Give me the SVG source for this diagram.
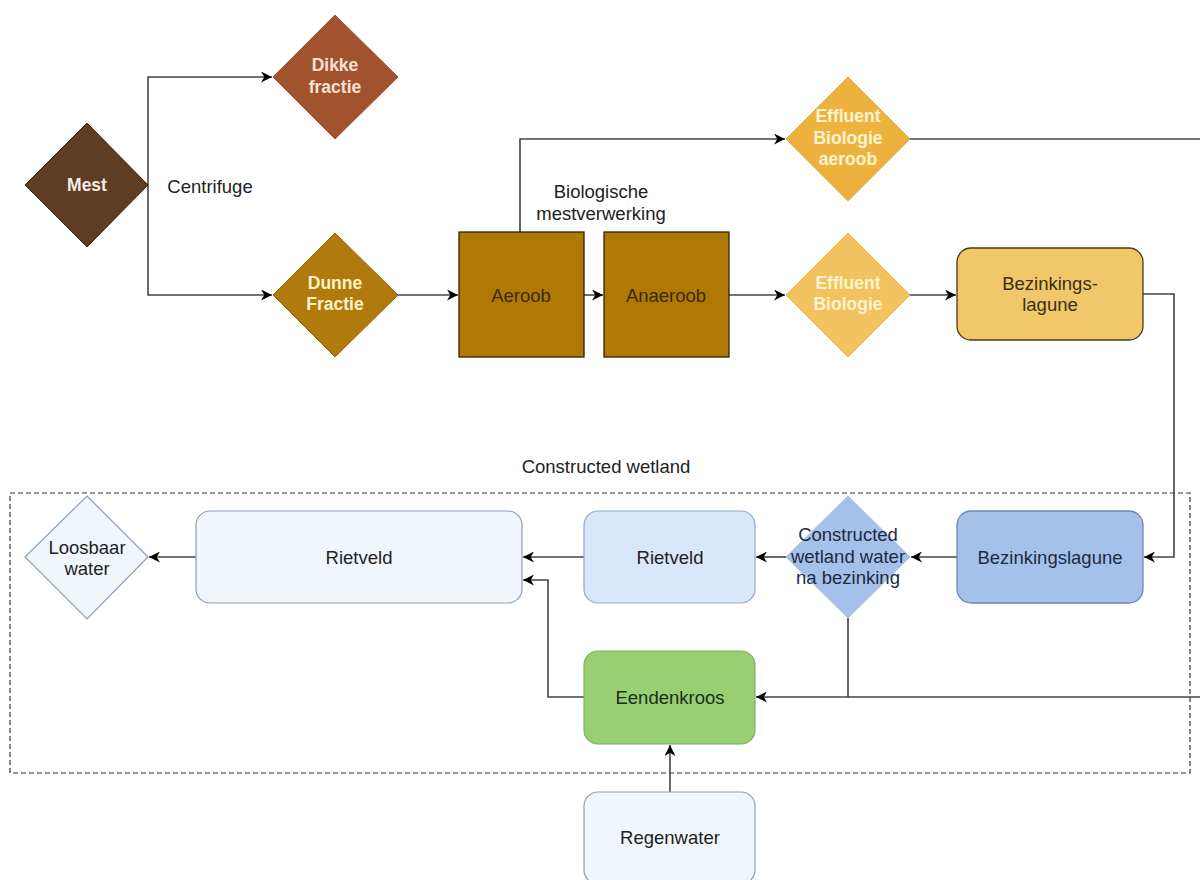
<svg xmlns="http://www.w3.org/2000/svg" width="1200" height="880" viewBox="0 0 1200 880">
<style>
text{font-family:"Liberation Sans",Arial,sans-serif;font-size:18.5px;text-anchor:middle;dominant-baseline:central}
.b{font-weight:bold;font-size:17.5px}
.c{fill:none;stroke:#444;stroke-width:1.6}
.d{fill:none;stroke:#333;stroke-width:1.2;stroke-dasharray:5 3}
</style>
<defs>
<marker id="a" viewBox="0 0 10 10" refX="10" refY="5" markerWidth="11" markerHeight="11" markerUnits="userSpaceOnUse" orient="auto">
<path d="M0,0 L10,5 L0,10 L3,5 Z" fill="#000"/>
</marker>
</defs>
<rect width="1200" height="880" fill="#fff"/>
<text x="606" y="466" fill="#222">Constructed wetland</text>
<rect class="d" x="10" y="493" width="1180" height="280"/>
<g id="connectors">
<path class="c" d="M148,185 V77 H272" marker-end="url(#a)"/>
<path class="c" d="M148,185 V295 H272" marker-end="url(#a)"/>
<path class="c" d="M398,295 H458" marker-end="url(#a)"/>
<path class="c" d="M584,295 H603" marker-end="url(#a)"/>
<path class="c" d="M520,232 V139 H785" marker-end="url(#a)"/>
<path class="c" d="M910,139 H1200"/>
<path class="c" d="M729,295 H785" marker-end="url(#a)"/>
<path class="c" d="M910,295 H956" marker-end="url(#a)"/>
<path class="c" d="M1143,294 H1174 V557 H1144" marker-end="url(#a)"/>
<path class="c" d="M957,557 H911" marker-end="url(#a)"/>
<path class="c" d="M786,557 H756" marker-end="url(#a)"/>
<path class="c" d="M584,557 H523" marker-end="url(#a)"/>
<path class="c" d="M196,557 H149" marker-end="url(#a)"/>
<path class="c" d="M584,697 H548 V580 H523" marker-end="url(#a)"/>
<path class="c" d="M848,618 V697 H756" marker-end="url(#a)"/>
<path class="c" d="M1200,697 H848"/>
<path class="c" d="M670,792 V745" marker-end="url(#a)"/>
</g>
<text x="210" y="186" fill="#222">Centrifuge</text>
<text x="601" y="191" fill="#222">Biologische</text>
<text x="601" y="213" fill="#222">mestverwerking</text>
<g id="mest">
<path d="M87,123 L148,185 L87,247 L25,185 Z" fill="#5e3d22" stroke="#3a2412"/>
<text class="b" x="87" y="185" fill="#f3ece6">Mest</text>
</g>
<g id="dikke">
<path d="M335,15 L398,77 L335,139 L273,77 Z" fill="#a3522e" stroke="#a3522e"/>
<text class="b" x="335" y="65" fill="#f6e3d6">Dikke</text>
<text class="b" x="335" y="87" fill="#f6e3d6">fractie</text>
</g>
<g id="dunne">
<path d="M335,233 L398,295 L335,357 L273,295 Z" fill="#b07a0c" stroke="#8f6308"/>
<text class="b" x="335" y="283" fill="#fff2c8">Dunne</text>
<text class="b" x="335" y="304" fill="#fff2c8">Fractie</text>
</g>
<g id="aeroob">
<rect x="459" y="232" width="125" height="125" fill="#b07903" stroke="#2e2200" stroke-width="1.3"/>
<text x="521" y="295" fill="#3a2a08">Aeroob</text>
</g>
<g id="anaeroob">
<rect x="604" y="232" width="125" height="125" fill="#b07903" stroke="#2e2200" stroke-width="1.3"/>
<text x="666" y="295" fill="#3a2a08">Anaeroob</text>
</g>
<g id="eff-aeroob">
<path d="M848,77 L910,139 L848,201 L786,139 Z" fill="#eeb33f" stroke="#e2a93a"/>
<text class="b" x="848" y="116" fill="#fff3d0">Effluent</text>
<text class="b" x="848" y="138" fill="#fff3d0">Biologie</text>
<text class="b" x="848" y="159" fill="#fff3d0">aeroob</text>
</g>
<g id="eff">
<path d="M848,233 L910,295 L848,357 L786,295 Z" fill="#f1c25d" stroke="#e8b54a"/>
<text class="b" x="848" y="283" fill="#fff3d0">Effluent</text>
<text class="b" x="848" y="304" fill="#fff3d0">Biologie</text>
</g>
<g id="bezinkings-lagune">
<rect x="957" y="248" width="186" height="92" rx="14" fill="#f0c86a" stroke="#4a3a18" stroke-width="1.3"/>
<text x="1050" y="283" fill="#3b2e12">Bezinkings-</text>
<text x="1050" y="304" fill="#3b2e12">lagune</text>
</g>
<g id="bezinkingslagune">
<rect x="957" y="511" width="186" height="92" rx="14" fill="#a6c1e9" stroke="#6d87b0" stroke-width="1.3"/>
<text x="1050" y="557" fill="#1c2a44">Bezinkingslagune</text>
</g>
<g id="cw-water">
<path d="M848,496 L910,557 L848,618 L786,557 Z" fill="#a6c1e9" stroke="#a6c1e9"/>
<text x="848" y="534" fill="#1c2a44">Constructed</text>
<text x="848" y="556" fill="#1c2a44">wetland water</text>
<text x="848" y="577" fill="#1c2a44">na bezinking</text>
</g>
<g id="rietveld-small">
<rect x="584" y="511" width="171" height="92" rx="14" fill="#d9e7fa" stroke="#93a9c6" stroke-width="1.2"/>
<text x="670" y="557" fill="#222">Rietveld</text>
</g>
<g id="rietveld-big">
<rect x="196" y="511" width="326" height="92" rx="14" fill="#f1f6fc" stroke="#8d9fb5" stroke-width="1.2"/>
<text x="359" y="557" fill="#222">Rietveld</text>
</g>
<g id="loosbaar">
<path d="M87,496 L148,557 L87,619 L25,557 Z" fill="#f1f6fc" stroke="#8d9fb5" stroke-width="1.2"/>
<text x="87" y="547" fill="#222">Loosbaar</text>
<text x="87" y="568" fill="#222">water</text>
</g>
<g id="eendenkroos">
<rect x="584" y="651" width="171" height="93" rx="14" fill="#97cf72" stroke="#7fb25f" stroke-width="1.2"/>
<text x="670" y="697" fill="#1c2e12">Eendenkroos</text>
</g>
<g id="regenwater">
<rect x="584" y="792" width="171" height="92" rx="14" fill="#f1f6fc" stroke="#8d9fb5" stroke-width="1.2"/>
<text x="670" y="837" fill="#222">Regenwater</text>
</g>
</svg>
